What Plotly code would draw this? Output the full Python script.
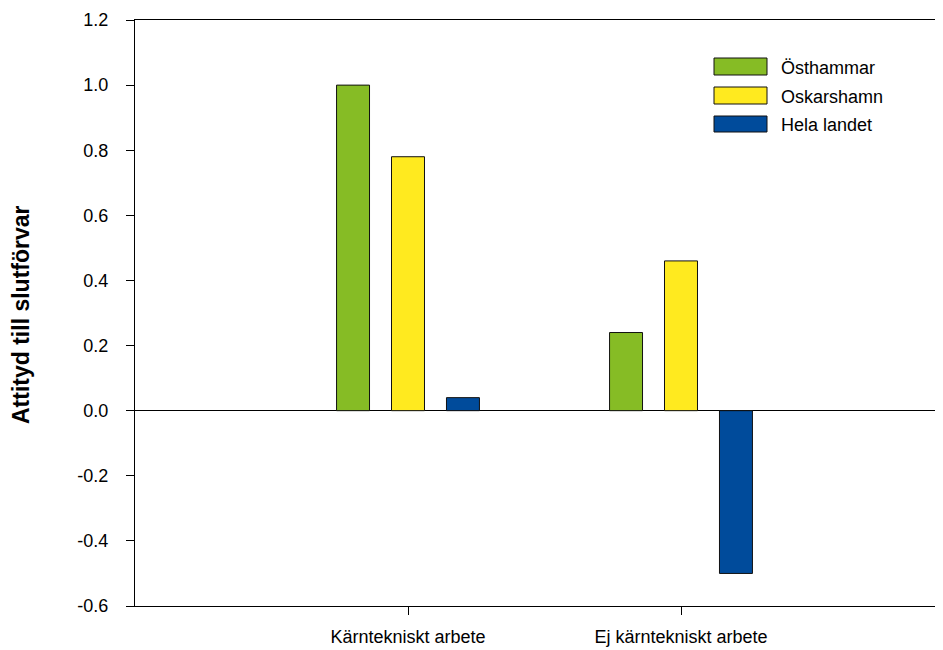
import plotly.graph_objects as go

categories = ["Kärntekniskt arbete", "Ej kärntekniskt arbete"]
series_names = ["Östhammar", "Oskarshamn", "Hela landet"]
osthammar = [1.00, 0.24]
oskarshamn = [0.78, 0.46]
hela_landet = [0.04, -0.50]
y_tick_vals = [-0.6, -0.4, -0.2, 0.0, 0.2, 0.4, 0.6, 0.8, 1.0, 1.2]
y_tick_text = ["-0.6", "-0.4", "-0.2", "0.0", "0.2", "0.4", "0.6", "0.8", "1.0", "1.2"]
colors = ["#86BC25", "#FFEA1F", "#004B9B"]

OFF = 8  # page body margin
W, H = 943 - OFF, 650 - OFF
L, R, T, B = 135 - OFF, 0, 20 - OFF, 44
pw, ph = W - L - R, H - T - B


def px(x):
    return (x - OFF - L) / pw


def py(y):
    return 1 - (y - OFF - T) / ph


xpos = [1, 2]
fig = go.Figure()
for name, vals, c in zip(series_names, [osthammar, oskarshamn, hela_landet], colors):
    fig.add_trace(go.Bar(x=xpos, y=vals, name=name, marker=dict(color=c, line=dict(color="#111111", width=1)),
                         showlegend=False))

font = "Liberation Sans, Arial, sans-serif"
fig.update_layout(
    width=W, height=H,
    margin=dict(l=L, r=R, t=T, b=B, autoexpand=False),
    paper_bgcolor="white", plot_bgcolor="white",
    barmode="group", bargap=0.396, bargroupgap=0.4,
    font=dict(family=font, size=18, color="black"),
)
fig.update_xaxes(range=[0, pw / 273.0], tickvals=xpos, ticktext=categories, showgrid=False,
                 showline=True, linecolor="black", linewidth=1.2, mirror=True,
                 ticks="outside", ticklen=8, tickcolor="black", tickfont=dict(size=18, family=font),
                 ticklabelstandoff=6, automargin=False,
                 zeroline=False)
fig.update_yaxes(range=[-0.6, 1.2], tickvals=y_tick_vals, ticktext=y_tick_text, showgrid=False,
                 showline=True, linecolor="black", linewidth=1.2,
                 ticks="outside", ticklen=8, tickcolor="black", tickfont=dict(size=18, family=font),
                 ticklabelstandoff=14, automargin=False,
                 zeroline=True, zerolinecolor="black", zerolinewidth=1)

fig.add_annotation(text="<b>Attityd till slutförvar</b>", textangle=-90, xref="paper", yref="paper",
                   x=px(21), y=py(315), xanchor="center", yanchor="middle", showarrow=False,
                   font=dict(size=23, family=font, color="black"))

legend_rows = [(58, 75), (87, 104), (116, 132)]
for (y0, y1), name, c in zip(legend_rows, series_names, colors):
    fig.add_shape(type="rect", xref="paper", yref="paper", x0=px(714), x1=px(767), y0=py(y1), y1=py(y0),
                  fillcolor=c, line=dict(color="#111111", width=1))
    fig.add_annotation(text=name, xref="paper", yref="paper", x=px(779), y=py((y0 + y1) / 2 + 1),
                       xanchor="left", yanchor="middle", showarrow=False,
                       font=dict(size=18, family=font, color="black"))

fig.write_html("out.html")
